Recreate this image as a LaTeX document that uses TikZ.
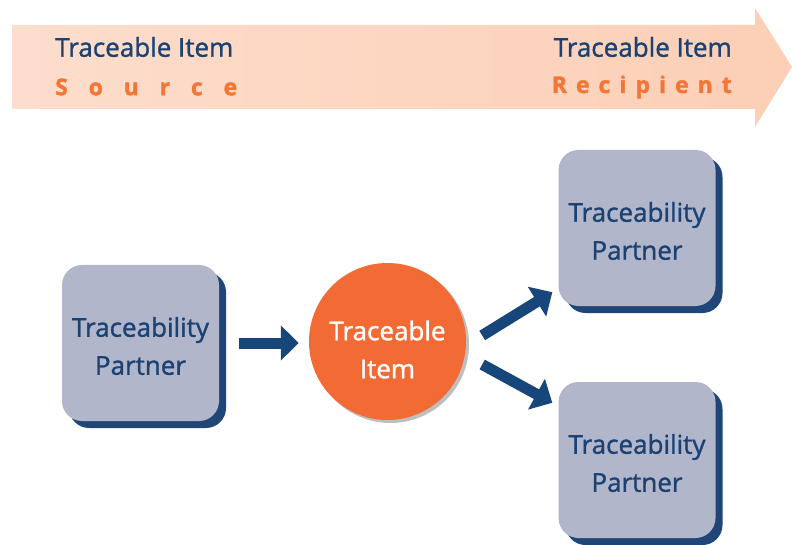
\documentclass[tikz,border=0pt]{standalone}
\usepackage{fontspec}
\setmainfont{Open Sans}
\newfontfamily\medfont[FakeBold=1.3]{Open Sans}
\newfontfamily\blackfont[FakeBold=1.6]{Open Sans Bold}
\usetikzlibrary{arrows.meta,shadows,calc}
\definecolor{navy}{HTML}{1B4273}
\definecolor{shadownavy}{HTML}{1F4677}
\definecolor{boxfill}{HTML}{B1B6CA}
\definecolor{orangefill}{HTML}{F26B35}
\definecolor{orangetext}{HTML}{F47636}
\definecolor{bannerL}{HTML}{FDDDCC}
\definecolor{bannerR}{HTML}{FCCFB6}
\definecolor{arrowblue}{HTML}{17467A}
\tikzset{
  bigtext/.style={align=center, font=\medfont\fontsize{26}{38}\selectfont},
  partner/.style={draw=none, fill=boxfill, rounded corners=20pt,
    minimum width=157pt, minimum height=156pt,
    drop shadow={shadow xshift=7pt, shadow yshift=-7pt, fill=shadownavy, opacity=1}},
  partnertext/.style={bigtext, text=navy, yshift=-3pt},
  itemcircle/.style={circle, fill=orangefill, minimum size=157pt, inner sep=0pt,
    drop shadow={shadow xshift=3pt, shadow yshift=-3pt, fill=black, opacity=0.25}},
  itemtext/.style={bigtext, text=white, yshift=-8pt},
  bannertitle/.style={text=navy, font=\medfont\fontsize{26}{30}\selectfont, inner sep=0pt},
  bannersub/.style={text=orangetext, font=\blackfont\fontsize{23}{27}\selectfont, inner sep=0pt},
  flow/.style={draw=arrowblue, line width=11pt, -{Triangle[length=18pt,width=34pt]}}
}
\begin{document}
\begin{tikzpicture}[x=1pt,y=-1pt]
\useasboundingbox (0,0) rectangle (792,545);
% banner arrow
\shade[left color=bannerL, right color=bannerR]
  (12,25) -- (755,25) -- (755,8) -- (792,67) -- (755,127) -- (755,109) -- (12,109) -- cycle;
\node[bannertitle, anchor=west] (srcT) at (55,47) {Traceable Item};
\node[bannersub, anchor=west] (srcS) at (55,87) {\makebox[182pt][s]{S\hfill o\hfill u\hfill r\hfill c\hfill e}};
\node[bannertitle, anchor=east] (recT) at (732,47) {Traceable Item};
\node[bannersub, anchor=east] (recS) at (732,87) {\makebox[180pt][s]{R\hfill e\hfill c\hfill i\hfill p\hfill i\hfill e\hfill n\hfill t}};
% nodes
\node[partner, label={[partnertext]center:Traceability\\Partner}] (p1) at (140.5,343) {};
\node[itemcircle, label={[itemtext]center:Traceable\\Item}] (item) at (387.5,341.5) {};
\node[partner, label={[partnertext]center:Traceability\\Partner}] (p2) at (637,228) {};
\node[partner, label={[partnertext]center:Traceability\\Partner}] (p3) at (637,460) {};
% connectors
\draw[flow] ([xshift=20pt]p1.east) -- ([xshift=-10pt]p1.east -| item.west);
\draw[flow] ([shift={(16,-6)}]item.east) -- ([shift={(-6,-14)}]p2.south west);
\draw[flow] ([shift={(16,23)}]item.east) -- ([shift={(-6,21)}]p3.north west);
\end{tikzpicture}
\end{document}
